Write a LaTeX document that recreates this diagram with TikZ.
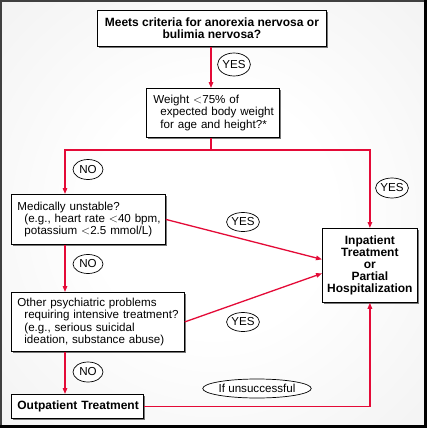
\documentclass[tikz,border=0pt]{standalone}
\usepackage{fontspec}
\setmainfont{Liberation Sans}
\usetikzlibrary{arrows.meta,shapes.geometric,shadows,calc}
\definecolor{flowred}{RGB}{228,10,55}
\definecolor{shadowgray}{RGB}{120,120,120}
\pgfdeclareradialshading{bgshade}{\pgfpoint{0bp}{0bp}}{color(0bp)=(white); color(14bp)=(white); color(50bp)=(black!8); color(71bp)=(black!11)}
\tikzset{
  box/.style={draw=black, line width=0.8pt, fill=white, rectangle, anchor=north west,
    inner xsep=6pt, inner ysep=2pt, font=\fontsize{11.6}{12.2}\selectfont,
    drop shadow={shadow xshift=2pt, shadow yshift=-2pt, fill=shadowgray, opacity=1}},
  boldbox/.style={box, font=\fontsize{12}{12.5}\selectfont\bfseries, align=center},
  tag/.style={draw=black, line width=0.7pt, fill=white, ellipse, inner sep=0pt,
    font=\fontsize{11.6}{12}\selectfont},
  flow/.style={draw=flowred, line width=1.3pt},
  flowarrow/.style={flow, -{Triangle[length=6pt,width=4.5pt]}},
}
\begin{document}
\begin{tikzpicture}[x=1pt,y=-1pt]
\useasboundingbox (0,0) rectangle (427,428);
\shade[shading=bgshade] (0,0) rectangle (427,428);
\draw[line width=1.6pt, black!75] (0.8,427) -- (0.8,0.8) -- (426,0.8);
\draw[line width=2.6pt] (425.7,0) -- (425.7,426.7) -- (0,426.7);

\node[boldbox, minimum width=229pt, minimum height=36pt] (top) at (97,10)
  {Meets criteria for anorexia nervosa or\\bulimia nervosa?};
\node[box, text width=119pt, minimum height=49pt, inner xsep=7pt, align=left] (weight) at (146,88)
  {\mbox{Weight $<$75\% of}\\\mbox{\hspace*{7pt}expected body weight}\\\mbox{\hspace*{7pt}for age and height?*}};
\node[box, text width=142pt, minimum height=50pt, align=left] (med) at (11,194)
  {\mbox{Medically unstable?}\\\mbox{\hspace*{7pt}(e.g., heart rate $<$40 bpm,}\\\mbox{\hspace*{7pt}potassium $<$2.5 mmol/L)}};
\node[box, text width=161pt, minimum height=59pt, align=left] (other) at (11,292)
  {\mbox{Other psychiatric problems}\\\mbox{\hspace*{7pt}requiring intensive treatment?}\\\mbox{\hspace*{7pt}(e.g., serious suicidal}\\\mbox{\hspace*{7pt}ideation, substance abuse)}};
\node[box, text width=120pt, minimum height=24pt, align=left, font=\fontsize{12}{12.5}\selectfont\bfseries] (out) at (11,394)
  {\mbox{Outpatient Treatment}};
\node[boldbox, minimum width=95pt, minimum height=74pt, inner xsep=2pt, font=\fontsize{12}{12.2}\selectfont\bfseries] (inp) at (322,228)
  {Inpatient\\Treatment\\or\\Partial\\Hospitalization};

\coordinate (cx) at (65,0);
\coordinate (split) at (211,150);

\draw[flowarrow] (top.south -| split) -- (weight.north -| split);
\draw[flow] (weight.south -| split) -- (split);
\draw[flowarrow] (split) -| (med.north -| cx);
\draw[flowarrow] (split) -| (inp.north);
\draw[flowarrow] (med.east) -- ([yshift=6pt]inp.west);
\draw[flowarrow] (other.east) -- ([yshift=-8pt]inp.west);
\draw[flowarrow] (med.south -| cx) -- (other.north -| cx);
\draw[flowarrow] (other.south -| cx) -- (out.north -| cx);
\draw[flowarrow] (out.east) -| (inp.south);

\node[tag, minimum width=32pt, minimum height=23pt] (y1) at (234,64.5) {YES};
\node[tag, minimum width=30pt, minimum height=20pt] (n1) at (88,169.5) {NO};
\node[tag, minimum width=30pt, minimum height=20pt] (y2) at (392,188) {YES};
\node[tag, minimum width=30pt, minimum height=19pt] (y3) at (243,222) {YES};
\node[tag, minimum width=30pt, minimum height=19pt] (n2) at (88,264) {NO};
\node[tag, minimum width=30pt, minimum height=19pt] (y4) at (243,322) {YES};
\node[tag, minimum width=30pt, minimum height=20pt] (n3) at (88,372) {NO};
\node[tag, minimum width=100pt, minimum height=19pt] (fail) at (257,388.5) {If unsuccessful};
\end{tikzpicture}
\end{document}
